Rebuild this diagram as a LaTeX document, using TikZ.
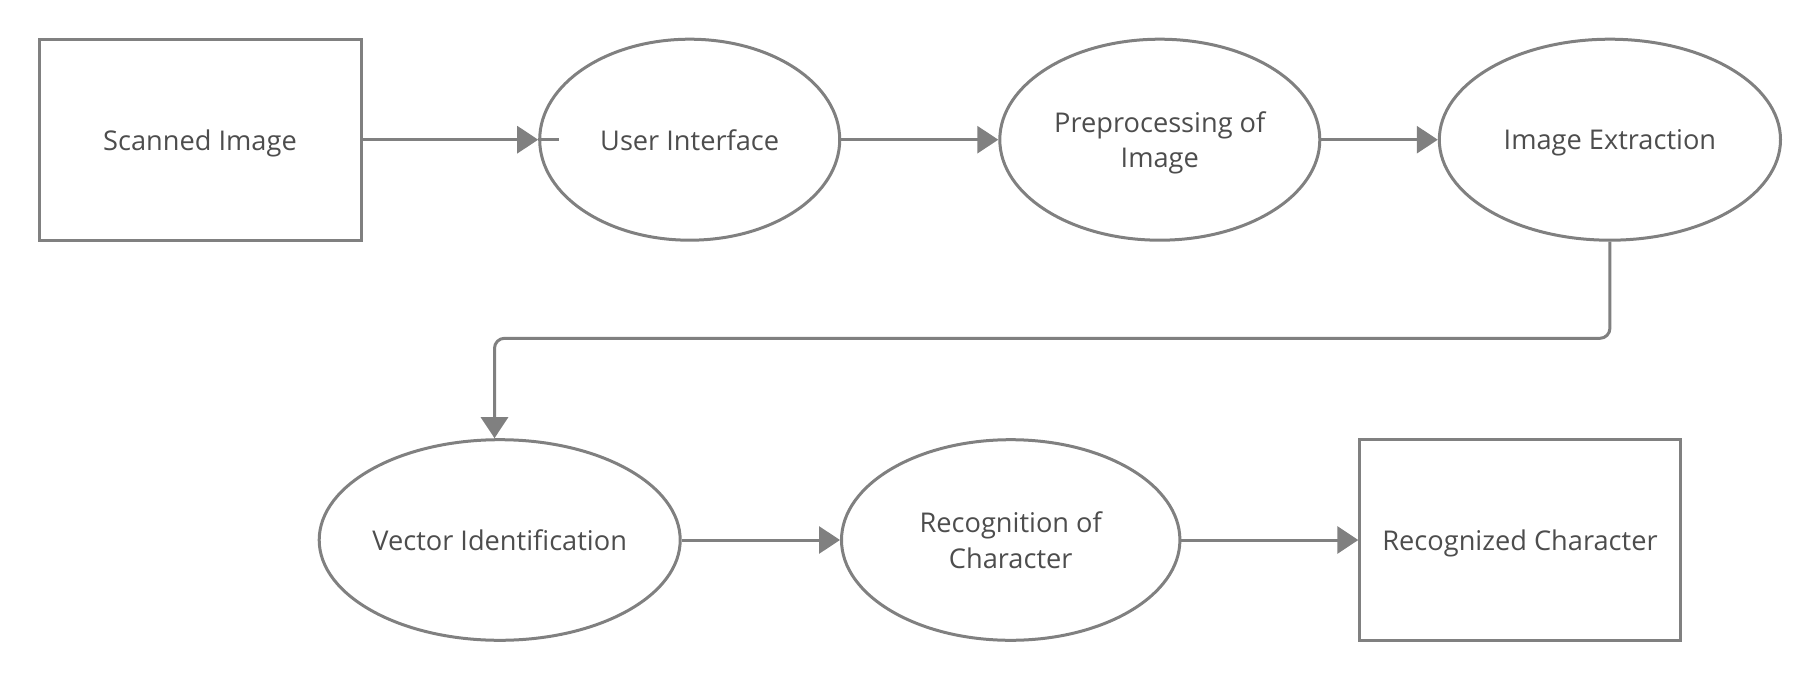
\documentclass[tikz,border=0pt]{standalone}
\usepackage{fontspec}
\setmainfont{Open Sans}
\usetikzlibrary{arrows.meta,shapes.geometric}
\definecolor{linegray}{HTML}{808080}
\definecolor{textgray}{HTML}{4D4D4D}
\begin{document}
\begin{tikzpicture}[x=1pt,y=1pt,
  every node/.style={font=\fontsize{13.6}{17.6}\selectfont, text=textgray, align=center, inner sep=0pt, text depth=0pt},
  boxnode/.style={draw=linegray, line width=1.5pt, rectangle, minimum width=161pt, minimum height=100.5pt},
  ellnode/.style={draw=linegray, line width=1.5pt, ellipse, minimum height=100.5pt},
  conn/.style={draw=linegray, line width=1.5pt},
  arr/.style={conn, -{Triangle[length=10.5pt,width=13.5pt]}}
]
\useasboundingbox (0,0) rectangle (910,-340);
\node[boxnode] (scan) at (100,-69.85) {Scanned Image};
\node[ellnode, minimum width=150pt] (ui) at (344.85,-69.85) {User Interface};
\node[ellnode, minimum width=160pt] (pre) at (579.9,-69.85) {Preprocessing of\\Image};
\node[ellnode, minimum width=170.6pt] (ext) at (804.95,-69.85) {Image Extraction};
\node[ellnode, minimum width=180.5pt, minimum height=100.3pt] (vec) at (249.85,-270) {Vector Identification};
\node[ellnode, minimum width=169.2pt, minimum height=100.3pt] (rec) at (505.35,-270) {Recognition of\\Character};
\node[boxnode, minimum width=160.2pt, minimum height=100.35pt] (out) at (760,-270) {Recognized Character};

\coordinate (bend) at (247.25,-169.15);
\draw[arr] (scan.east) -- (ui.west);
\draw[conn] (ui.west) -- ++(10.5,0);
\draw[arr] (ui.east) -- (pre.west);
\draw[arr] (pre.east) -- (ext.west);
\draw[arr, rounded corners=5pt] (ext.south) |- (bend) -- (bend |- vec.north);
\draw[arr] (vec.east) -- (rec.west);
\draw[arr] (rec.east) -- (out.west);
\end{tikzpicture}
\end{document}
